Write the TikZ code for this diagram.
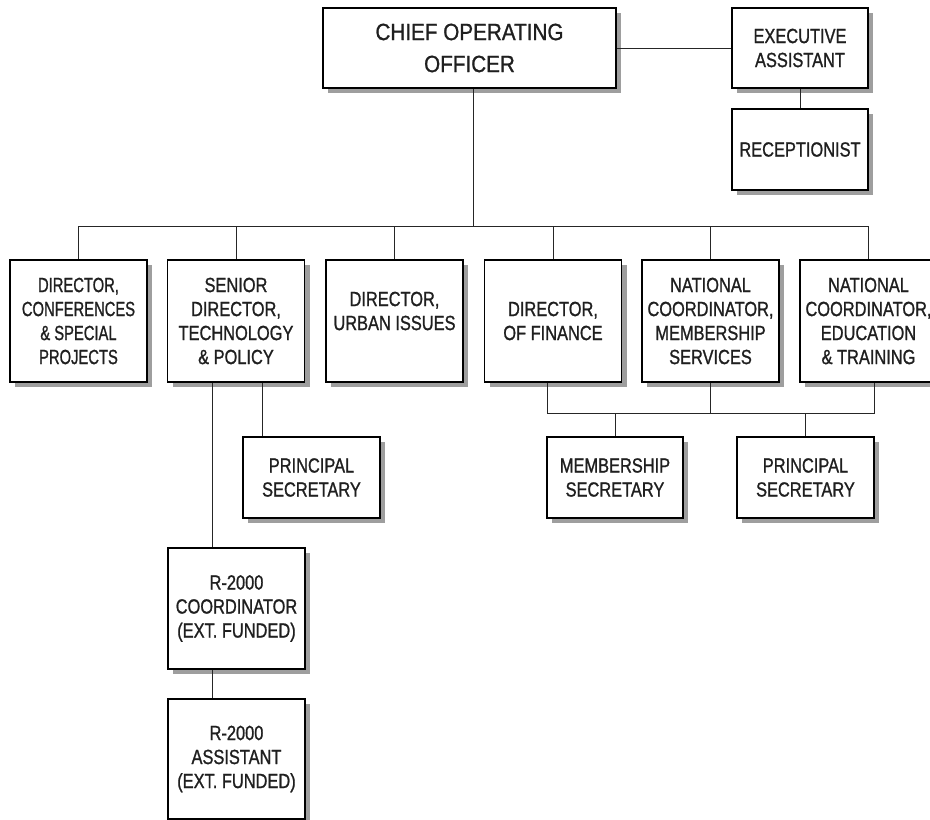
\documentclass[tikz,border=0pt]{standalone}
\usepackage{fontspec}
\setmainfont{Liberation Sans}[FakeStretch=0.8, FakeBold=1]
\newfontfamily\cooFont{Liberation Sans}[FakeStretch=0.88, FakeBold=1]
\newfontfamily\tightFont{Liberation Sans}[FakeStretch=0.72, FakeBold=1]
\usetikzlibrary{shadows}
\begin{document}
\begin{tikzpicture}[x=1pt,y=-1pt,
  orgbox/.style={draw=black, line width=1.1pt, fill=white, align=center, inner sep=0pt,
    minimum width=137pt, minimum height=122pt, text=black!88,
    font=\fontsize{20.5}{24}\selectfont,
    drop shadow={shadow xshift=5pt, shadow yshift=-5pt, fill=black!38, opacity=1}},
  link/.style={line width=1pt, draw=black!85}]
\useasboundingbox (0,0) rectangle (930,820);

% top level
\node[orgbox, minimum width=293pt, minimum height=80pt,
  font=\cooFont\fontsize{23.5}{32}\selectfont] (coo) at (469.5,48) {CHIEF OPERATING\\OFFICER};
\node[orgbox, minimum width=136pt, minimum height=80pt] (exec) at (800,48) {EXECUTIVE\\ASSISTANT};
\node[orgbox, minimum width=136pt, minimum height=81pt] (recep) at (800,149.5) {RECEPTIONIST};

% row 1
\node[orgbox, font=\tightFont\fontsize{20.5}{24}\selectfont] (conf) at (78.5,321)
  {DIRECTOR,\\CONFERENCES\\\& SPECIAL\\PROJECTS};
\node[orgbox] (tech) at (236,321) {SENIOR\\DIRECTOR,\\TECHNOLOGY\\\& POLICY};
\node[orgbox, label={[name=urbantext, align=center, text=black!88, yshift=10pt,
  font=\fontsize{20.5}{24}\selectfont]center:{DIRECTOR,\\URBAN ISSUES}}] (urban) at (394.5,321) {};
\node[orgbox] (fin) at (553,321) {DIRECTOR,\\OF FINANCE};
\node[orgbox] (memb) at (710.5,321) {NATIONAL\\COORDINATOR,\\MEMBERSHIP\\SERVICES};
\node[orgbox] (edu) at (868.5,321) {NATIONAL\\COORDINATOR,\\EDUCATION\\\& TRAINING};

% lower rows
\node[orgbox, minimum height=81pt] (psecA) at (311.5,477.5) {PRINCIPAL\\SECRETARY};
\node[orgbox, minimum width=136pt, minimum height=81pt] (msec) at (615,477.5) {MEMBERSHIP\\SECRETARY};
\node[orgbox, minimum height=81pt] (psecB) at (805.5,477.5) {PRINCIPAL\\SECRETARY};
\node[orgbox, minimum height=121pt] (rcoord) at (236.5,608.5) {R-2000\\COORDINATOR\\(EXT. FUNDED)};
\node[orgbox, minimum height=120pt] (rasst) at (236.5,759) {R-2000\\ASSISTANT\\(EXT. FUNDED)};

% connectors
\coordinate (bus) at (473,226);
\coordinate (lbus) at (600,413);
\draw[link] ([xshift=3.5pt]coo.south) -- ([xshift=3.5pt]coo.south |- bus);
\draw[link] (conf.north) -- (conf.north |- bus) -- (edu.north |- bus) -- (edu.north);
\draw[link] (tech.north) -- (tech.north |- bus);
\draw[link] (urban.north) -- (urban.north |- bus);
\draw[link] (fin.north) -- (fin.north |- bus);
\draw[link] (memb.north) -- (memb.north |- bus);
\draw[link] (coo.east) -- (exec.west);
\draw[link] (exec.south) -- (recep.north);

\draw[link] ([xshift=-6pt]fin.south) -- ([xshift=-6pt]fin.south |- lbus)
  -- ([xshift=5.5pt]edu.south |- lbus) -- ([xshift=5.5pt]edu.south);
\draw[link] (memb.south) -- (memb.south |- lbus);
\draw[link] (msec.north) -- (msec.north |- lbus);
\draw[link] (psecB.north) -- (psecB.north |- lbus);

\draw[link] ([xshift=-24pt]tech.south) -- ([xshift=-24.5pt]rcoord.north);
\draw[link] ([xshift=26pt]tech.south) -- ([xshift=26pt]tech.south |- psecA.north);
\draw[link] ([xshift=-24.5pt]rcoord.south) -- ([xshift=-24.5pt]rasst.north);
\end{tikzpicture}
\end{document}
